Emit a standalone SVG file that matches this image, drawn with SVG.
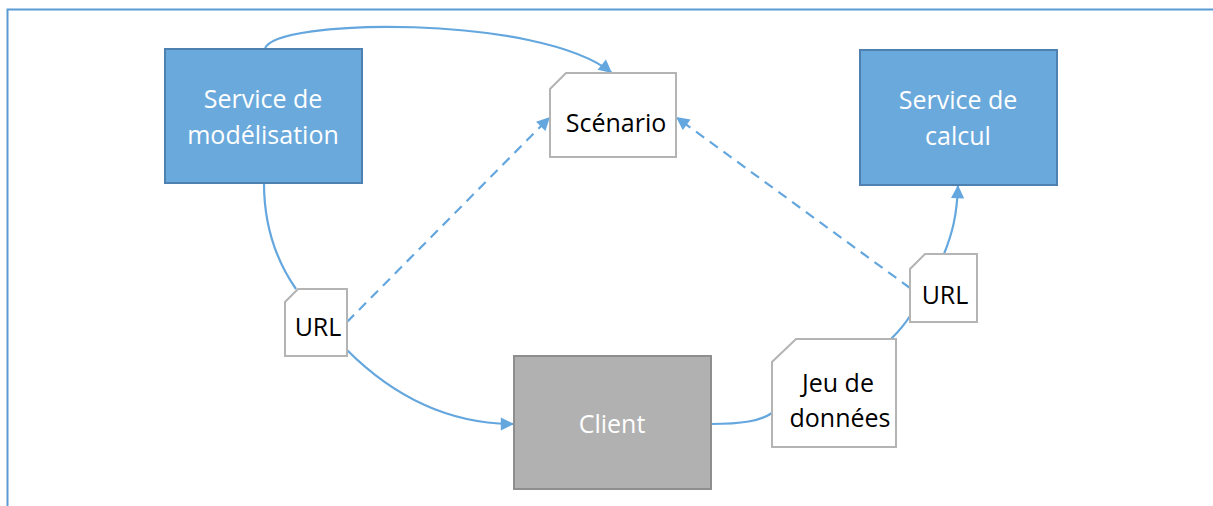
<svg xmlns="http://www.w3.org/2000/svg" width="1213" height="506" viewBox="0 0 1213 506">
<defs>
<style>
.frame{stroke:#5B9BD5;stroke-width:2;fill:none}
.svc{fill:#6AA9DC;stroke:#4F81B0;stroke-width:2}
.doc{fill:#ffffff;stroke:#B4B4B4;stroke-width:2}
.cli{fill:#B1B1B1;stroke:#8E8E8E;stroke-width:2}
.conn{stroke:#64A6DE;stroke-width:2.2;fill:none}
.dash{stroke-dasharray:10 7}
.tw{font-family:"Open Sans","DejaVu Sans",sans-serif;font-size:25px;fill:#ffffff;text-anchor:middle}
.tb{font-family:"Open Sans","DejaVu Sans",sans-serif;font-size:25px;fill:#000000;text-anchor:middle}
</style>
<marker id="arr" viewBox="0 0 10 10" refX="10" refY="5" markerWidth="6.5" markerHeight="6" orient="auto" markerUnits="strokeWidth">
<path d="M0,0 L10,5 L0,10 z" fill="#64A6DE"/>
</marker>
</defs>
<rect width="1213" height="506" fill="#ffffff"/>
<g id="frame">
<path class="frame" d="M1213,9.5 H7.5 V506"/>
</g>
<g id="connectors">
<path class="conn" d="M265,49 C272,18 540,14 612,73" marker-end="url(#arr)"/>
<path class="conn" d="M264,183 C264,232 280,266 296,289"/>
<path class="conn" d="M347,350 C395,398 450,424 514,424" marker-end="url(#arr)"/>
<path class="conn dash" d="M347,322 L550,117" marker-end="url(#arr)"/>
<path class="conn" d="M711,424 C742,424 760,421 772,413"/>
<path class="conn" d="M891,339 C898,332 905,324 910,316"/>
<path class="conn" d="M944,254 C952,234 957,216 958,185" marker-end="url(#arr)"/>
<path class="conn dash" d="M910,288 L676,117" marker-end="url(#arr)"/>
</g>
<g id="service-modelisation">
<rect class="svc" x="165" y="49" width="197" height="134"/>
<text class="tw" x="263" y="108">Service de</text>
<text class="tw" x="263" y="144">modélisation</text>
</g>
<g id="scenario">
<path class="doc" d="M566,73 H676 V157 H550 V89 Z"/>
<text class="tb" x="616" y="132">Scénario</text>
</g>
<g id="service-calcul">
<rect class="svc" x="860" y="50" width="197" height="135"/>
<text class="tw" x="958" y="109">Service de</text>
<text class="tw" x="958" y="145">calcul</text>
</g>
<g id="url-left">
<path class="doc" d="M298,289 H347 V356 H285 V302 Z"/>
<text class="tb" x="318" y="336">URL</text>
</g>
<g id="client">
<rect class="cli" x="514" y="356" width="197" height="133"/>
<text class="tw" x="612" y="433">Client</text>
</g>
<g id="jeu-de-donnees">
<path class="doc" d="M796,339 H896 V447 H772 V362 Z"/>
<text class="tb" x="838" y="392">Jeu de</text>
<text class="tb" x="840" y="427">données</text>
</g>
<g id="url-right">
<path class="doc" d="M925,254 H977 V322 H910 V269 Z"/>
<text class="tb" x="945" y="304">URL</text>
</g>
</svg>
